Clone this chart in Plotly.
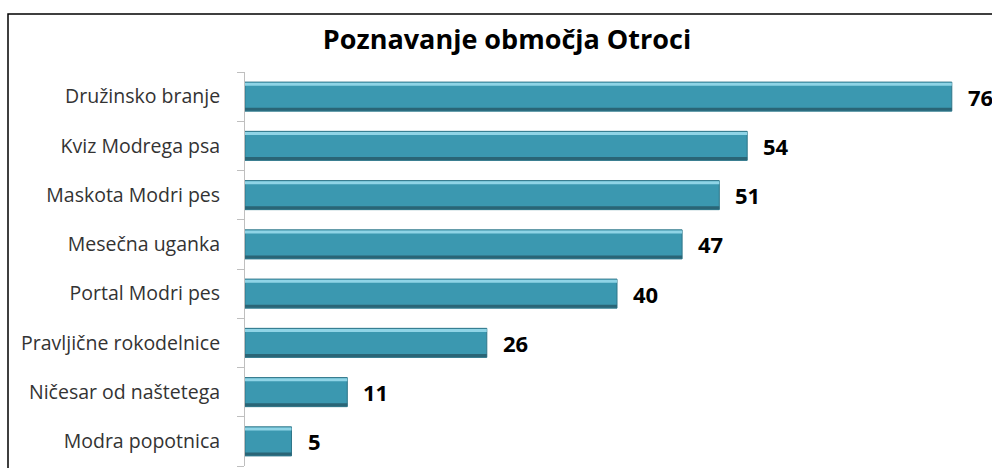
import plotly.graph_objects as go

# data, top to bottom as in the chart
categories = [
    "Družinsko branje",
    "Kviz Modrega psa",
    "Maskota Modri pes",
    "Mesečna uganka",
    "Portal Modri pes",
    "Pravljične rokodelnice",
    "Ničesar od naštetega",
    "Modra popotnica",
]
values = [76, 54, 51, 47, 40, 26, 11, 5]
title = "Poznavanje območja Otroci"

# plotly draws horizontal categories bottom-up
cats = categories[::-1]
vals = values[::-1]

W, H = 992, 468
ML, MR, MT, MB = 245, 0, 72, 2
bar_w = 0.59

fig = go.Figure()

# main bar body
fig.add_trace(go.Bar(
    x=vals, y=cats, orientation="h", width=bar_w,
    marker=dict(color="#3b98b0", line=dict(color="#2f7689", width=1)),
    hoverinfo="x+y", showlegend=False,
))
# light top bevel
fig.add_trace(go.Bar(
    x=vals, y=cats, orientation="h", width=0.06, offset=bar_w / 2 - 0.075,
    marker=dict(color="#8fd4e6", line=dict(width=0)),
    hoverinfo="skip", showlegend=False,
))
# dark bottom bevel
fig.add_trace(go.Bar(
    x=vals, y=cats, orientation="h", width=0.06, offset=-bar_w / 2 + 0.01,
    marker=dict(color="#2a6576", line=dict(width=0)),
    hoverinfo="skip", showlegend=False,
))

for c, v in zip(cats, vals):
    fig.add_annotation(
        x=v, y=c, text=str(v), showarrow=False,
        xanchor="left", xshift=14,
        font=dict(family="Open Sans", size=22, color="#000000", weight="bold"),
    )

# outer frame (cropped at right and bottom)
pw = W - ML - MR
ph = H - MT - MB
fig.add_shape(
    type="rect", xref="paper", yref="paper",
    x0=(8 - ML) / pw, x1=1.2, y0=-0.2, y1=(H - MB - 14) / ph,
    line=dict(color="#000000", width=1.5),
)

fig.update_layout(
    width=W, height=H,
    margin=dict(l=ML, r=MR, t=MT, b=MB),
    barmode="overlay",
    plot_bgcolor="white", paper_bgcolor="white",
    title=dict(
        text=title, x=507 / W, xanchor="center", y=1 - 40 / H, yanchor="middle",
        font=dict(family="Open Sans", size=27, color="#000000", weight="bold"),
    ),
    font=dict(family="Open Sans", size=19, color="#333333"),
)
fig.update_xaxes(range=[0, pw / 9.3], visible=False, automargin=False)
fig.update_yaxes(
    showline=True, linecolor="#bfbfbf", linewidth=1, automargin=False,
    ticks="outside", tickson="boundaries", ticklen=7, tickcolor="#bfbfbf",
    ticklabelstandoff=20, showgrid=False,
    tickfont=dict(family="Open Sans", size=19.5, color="#333333"),
)

# page body has a default 8px margin; drop it so the figure sits at the corner
fig.write_html(
    "out.html",
    config={"displayModeBar": False},
    post_script="document.body.style.margin='0';",
)
